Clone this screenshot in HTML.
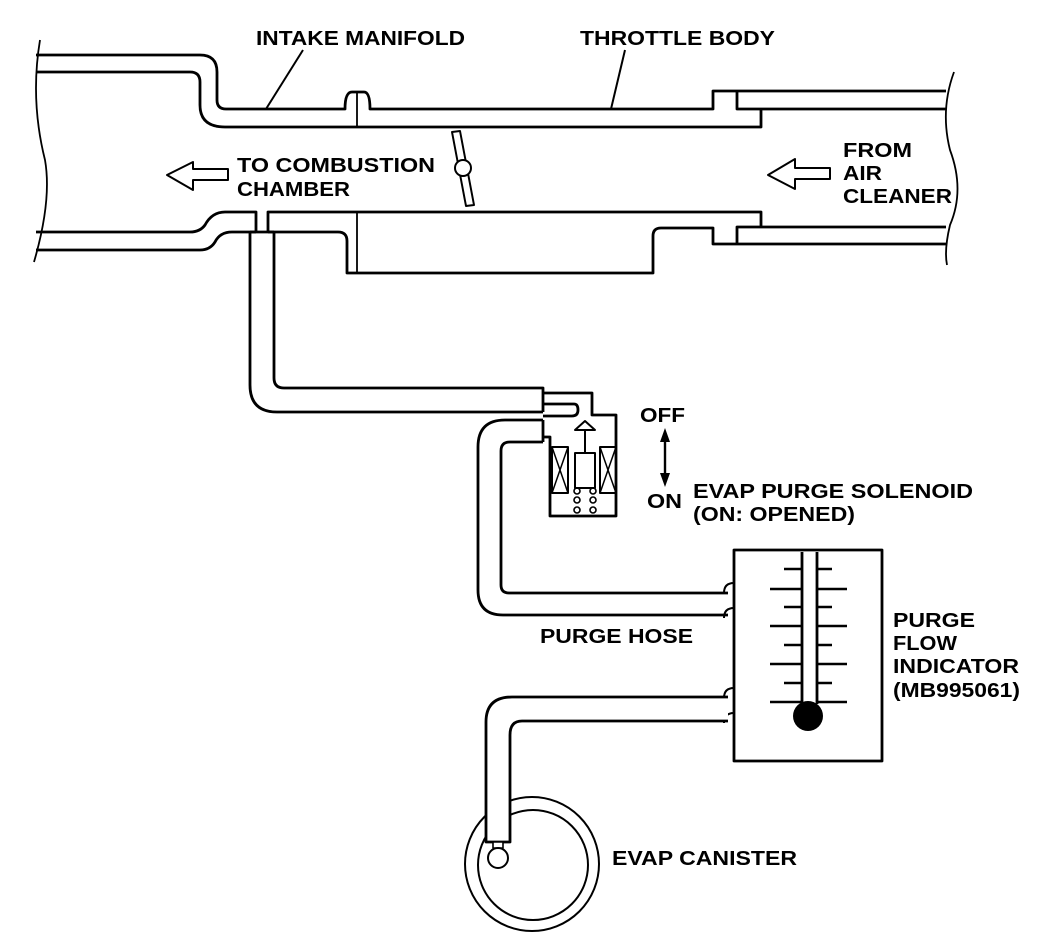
<!DOCTYPE html>
<html><head><meta charset="utf-8"><style>
html,body{margin:0;padding:0;background:#fff;}
svg{display:block;}
text{font-family:"Liberation Sans",Arial,sans-serif;font-weight:bold;font-size:20px;fill:#000;}
</style></head><body>
<svg width="1056" height="938" viewBox="0 0 1056 938" xmlns="http://www.w3.org/2000/svg">
<g fill="none" stroke="#000" stroke-width="2.8" stroke-linejoin="round">
<path d="M40 40 Q30 100 45 160 Q52 200 34 262" stroke-width="1.8"/>
<path d="M954 72 Q940 110 950 150 Q965 190 950 225 Q944 250 947 265" stroke-width="1.8"/>
<path d="M36 55 H200 Q217 55 217 72 V100 Q217 109 226 109 H345 Q345 92 352 92 H364 Q370 92 370 109 H713 V91 H946"/>
<path d="M36 72 H190 Q200 72 200 82 V105 Q200 127 225 127 H761 V109 H737 V91 M737 109 H946"/>
<line x1="357" y1="92" x2="357" y2="127" stroke-width="1.8"/>
<path d="M36 232 H190 Q200 232 205 225 Q212 212 225 212 H256 V232"/>
<path d="M268 232 V212 H761 V227"/>
<path d="M737 244 V227 H946"/>
<path d="M36 250 H200 Q210 250 215 242 Q220 232 232 232 H256"/>
<path d="M268 232 H338 Q347 232 347 241 V273 H653 V236 Q653 228 661 228 H713 V244 H946"/>
<line x1="357" y1="212" x2="357" y2="273" stroke-width="1.8"/>
<path d="M452 132 L460 131 L474 205 L466 206 Z" stroke-width="2"/>
<circle cx="463" cy="168" r="8" fill="#fff" stroke-width="2"/>
<path d="M167 175 L193 162 V169 H228 V180 H193 V190 Z" stroke-width="2"/>
<path d="M768 175 L795 159 V168 H830 V179 H795 V189 Z" stroke-width="2"/>
<line x1="303" y1="50" x2="266" y2="109" stroke-width="2"/>
<line x1="625" y1="50" x2="611" y2="109" stroke-width="2"/>
<path d="M250 232 V385 Q250 412 277 412 H543"/>
<path d="M274 232 V378 Q274 388 284 388 H543 V412"/>
<line x1="250" y1="232" x2="274" y2="232"/>
<path d="M543 393 H592 V415 H616 V516 H550 V437 H543"/>
<path d="M543 404 H574 Q578 404 578 410 Q578 416 572 416 H543"/>
<path d="M543 420 H505 Q478 420 478 447 V590 Q478 615 503 615 H728"/>
<path d="M543 442 H510 Q501 442 501 451 V585 Q501 593 509 593 H728"/>
<path d="M543 420 V442"/>
<rect x="552" y="447" width="16" height="46" stroke-width="2"/>
<path d="M552 447 L568 493 M568 447 L552 493" stroke-width="1.5"/>
<rect x="600" y="447" width="16" height="46" stroke-width="2"/>
<path d="M600 447 L616 493 M616 447 L600 493" stroke-width="1.5"/>
<rect x="575" y="453" width="20" height="35" stroke-width="2"/>
<line x1="585" y1="453" x2="585" y2="430" stroke-width="2"/>
<path d="M575 430 L585 421 L595 430 Z" stroke-width="2"/>
<g stroke-width="1.6">
<circle cx="577" cy="491" r="3"/><circle cx="593" cy="491" r="3"/>
<circle cx="577" cy="500" r="3"/><circle cx="593" cy="500" r="3"/>
<circle cx="577" cy="510" r="3"/><circle cx="593" cy="510" r="3"/>
</g>
<rect x="734" y="550" width="148" height="211"/>
<path d="M734 583 Q724 583 724 593 M734 608 Q724 608 724 618 M734 688 Q724 688 724 698 M734 713 Q724 713 724 723" stroke-width="2"/>
<path d="M802 552 V704 M817 552 V704"/>
<g stroke-width="2.4">
<path d="M770 589 H802 M817 589 H847 M770 626 H802 M817 626 H847 M770 664 H802 M817 664 H847 M770 702 H802 M817 702 H847"/>
<path d="M784 569 H802 M817 569 H832 M784 607 H802 M817 607 H832 M784 645 H802 M817 645 H832 M784 683 H802 M817 683 H832"/>
</g>
<circle cx="532" cy="864" r="67" stroke-width="2"/>
<circle cx="533" cy="865" r="55" stroke-width="2"/>
<path d="M728 697 H512 Q486 697 486 722 V842 H510 V735 Q510 721 522 721 H728" fill="#fff"/>
<rect x="493" y="842" width="10" height="6" stroke-width="1.6" fill="#fff"/>
<circle cx="498" cy="858" r="10" fill="#fff" stroke-width="2"/>
<line x1="665" y1="436" x2="665" y2="478" stroke-width="2.4"/>
</g>
<path d="M665 428 L660 442 H670 Z M665 487 L660 473 H670 Z" fill="#000"/>
<circle cx="808" cy="716" r="15" fill="#000"/>

<text x="256" y="45" textLength="209" lengthAdjust="spacingAndGlyphs">INTAKE MANIFOLD</text>
<text x="580" y="45" textLength="195" lengthAdjust="spacingAndGlyphs">THROTTLE BODY</text>
<text x="237" y="172" textLength="198" lengthAdjust="spacingAndGlyphs">TO COMBUSTION</text>
<text x="237" y="196" textLength="113" lengthAdjust="spacingAndGlyphs">CHAMBER</text>
<text x="843" y="157" textLength="69" lengthAdjust="spacingAndGlyphs">FROM</text>
<text x="843" y="180" textLength="39" lengthAdjust="spacingAndGlyphs">AIR</text>
<text x="843" y="203" textLength="109" lengthAdjust="spacingAndGlyphs">CLEANER</text>
<text x="640" y="422" textLength="45" lengthAdjust="spacingAndGlyphs">OFF</text>
<text x="647" y="508" textLength="35" lengthAdjust="spacingAndGlyphs">ON</text>
<text x="693" y="498" textLength="280" lengthAdjust="spacingAndGlyphs">EVAP PURGE SOLENOID</text>
<text x="693" y="521" textLength="162" lengthAdjust="spacingAndGlyphs">(ON: OPENED)</text>
<text x="893" y="627" textLength="82" lengthAdjust="spacingAndGlyphs">PURGE</text>
<text x="893" y="650" textLength="64" lengthAdjust="spacingAndGlyphs">FLOW</text>
<text x="893" y="673" textLength="126" lengthAdjust="spacingAndGlyphs">INDICATOR</text>
<text x="893" y="697" textLength="127" lengthAdjust="spacingAndGlyphs">(MB995061)</text>
<text x="540" y="643" textLength="153" lengthAdjust="spacingAndGlyphs">PURGE HOSE</text>
<text x="612" y="865" textLength="185" lengthAdjust="spacingAndGlyphs">EVAP CANISTER</text>
</svg>
</body></html>
